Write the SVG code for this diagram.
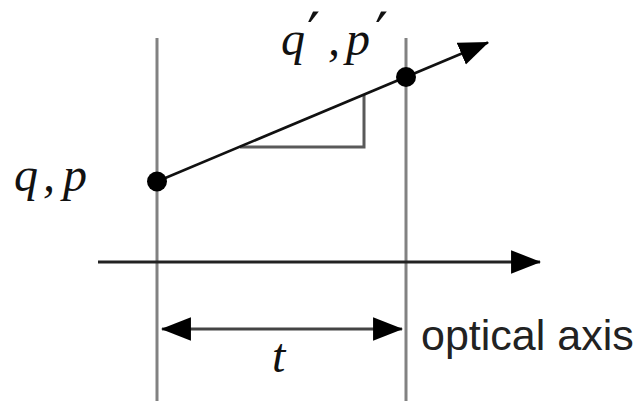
<svg xmlns="http://www.w3.org/2000/svg" width="637" height="401" viewBox="0 0 637 401">
<style>
.plane{stroke:#828282;stroke-width:3;fill:none}
.ray{stroke:#111;stroke-width:2.6;fill:none}
.axis{stroke:#222;stroke-width:3;fill:none}
.dim{stroke:#444;stroke-width:3;fill:none}
.tri{stroke:#5a5a5a;stroke-width:3;fill:none}
.dot{fill:#000}
.math{font-family:"Liberation Serif","DejaVu Serif",serif;font-style:italic;font-size:48px;fill:#111}
.prime{font-family:"DejaVu Sans","Liberation Sans",sans-serif;font-size:58px;fill:#111}
.lbl{font-family:"Liberation Sans",Arial,sans-serif;font-size:43px;fill:#222}
</style>
<defs>
<marker id="ah" markerUnits="userSpaceOnUse" markerWidth="30" markerHeight="24" viewBox="0 0 28 22" refX="27" refY="11" orient="auto-start-reverse">
<path d="M0,0 L28,11 L0,22 z" fill="#000"/>
</marker>
</defs>
<rect width="637" height="401" fill="#fff"/>
<g id="plane-in"><line class="plane" x1="157" y1="38" x2="157" y2="401"/></g>
<g id="plane-out"><line class="plane" x1="406" y1="38" x2="406" y2="401"/></g>
<g id="slope-triangle"><polyline class="tri" points="240,147 364,147 364,95"/></g>
<g id="connectors">
<line id="ray" class="ray" x1="157" y1="181.5" x2="488" y2="42.5" marker-end="url(#ah)"/>
<line id="optical-axis" class="axis" x1="98" y1="262" x2="540" y2="262" marker-end="url(#ah)"/>
<line id="distance-t" class="dim" x1="162" y1="329" x2="402" y2="329" marker-start="url(#ah)" marker-end="url(#ah)"/>
</g>
<g id="point-in"><circle class="dot" cx="157" cy="181.5" r="10"/>
<text class="math" x="14" y="191">q</text><text class="math" x="43" y="191">,</text><text class="math" x="63" y="191">p</text></g>
<g id="point-out"><circle class="dot" cx="406" cy="77" r="10"/>
<text class="math" x="281" y="55">q</text><text class="prime" x="307" y="54">′</text>
<text class="math" x="328" y="55">,</text>
<text class="math" x="346" y="55">p</text><text class="prime" x="375" y="54">′</text></g>
<g id="label-t"><text class="math" x="272" y="372">t</text></g>
<g id="label-axis"><text class="lbl" x="421" y="350">optical axis</text></g>
</svg>
